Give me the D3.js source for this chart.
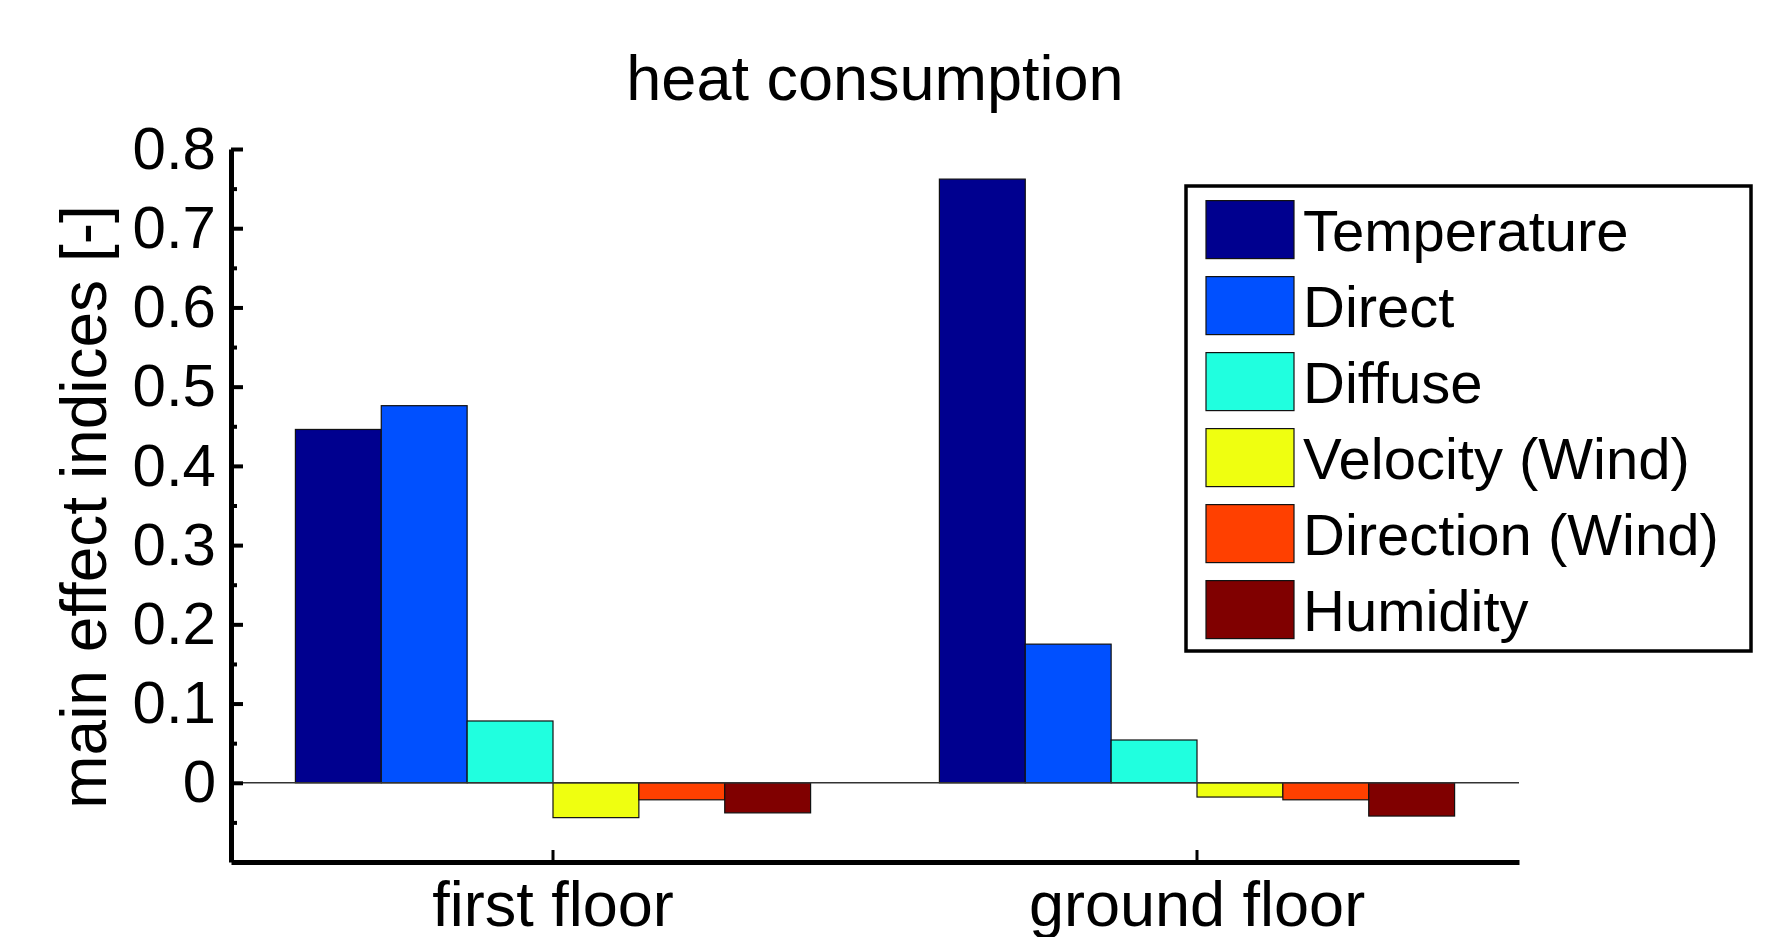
<script src="https://d3js.org/d3.v7.min.js"></script>
<style>
  body { margin: 0; background: white; }
  text { font-family: "Liberation Sans", Arial, sans-serif; fill: black; }
</style>
<div id="chart"></div>
<script>
categories = ["first floor", "ground floor"]
series = ["Temperature", "Direct", "Diffuse", "Velocity (Wind)", "Direction (Wind)", "Humidity"]
colors = ["#00008f", "#0050ff", "#20ffdf", "#efff10", "#ff4000", "#800000"]
firstFloor = [0.446, 0.476, 0.078, -0.044, -0.0215, -0.038]
groundFloor = [0.762, 0.175, 0.054, -0.018, -0.0215, -0.042]
yTicks = [0, 0.1, 0.2, 0.3, 0.4, 0.5, 0.6, 0.7, 0.8]
yMinor = [-0.05, 0.05, 0.15, 0.25, 0.35, 0.45, 0.55, 0.65, 0.75]

width = 1787
height = 937
// plot box (window.top is read-only, so no "top" name)
plotL = 231, plotR = 1519, plotT = 149, plotB = 862

rows = categories.map((c, i) => ({cat: c, vals: [firstFloor, groundFloor][i]}))

svg = d3.select('#chart')
  .append('svg')
  .attr('width', width)
  .attr('height', height)

xScale = d3.scaleBand()
  .domain(categories)
  .range([plotL, plotR])
  .paddingInner(0.2)
  .paddingOuter(0.1)

xInner = d3.scaleBand()
  .domain(series)
  .range([0, xScale.bandwidth()])

yScale = d3.scaleLinear()
  .domain([-0.1, 0.8])
  .range([plotB, plotT])

// bars
groups = svg.selectAll('g.grp')
  .data(rows)
  .enter().append('g')
  .attr('class', 'grp')
  .attr('transform', d => 'translate(' + xScale(d.cat) + ',0)')

groups.selectAll('rect')
  .data(d => d.vals.map((v, j) => ({name: series[j], v: v, c: colors[j]})))
  .enter().append('rect')
  .attr('x', d => xInner(d.name))
  .attr('width', xInner.bandwidth())
  .attr('y', d => yScale(Math.max(0, d.v)))
  .attr('height', d => Math.abs(yScale(d.v) - yScale(0)))
  .attr('fill', d => d.c)
  .attr('stroke', '#111')
  .attr('stroke-width', 1.2)

// zero line
svg.append('line')
  .attr('x1', plotL).attr('x2', plotR)
  .attr('y1', yScale(0)).attr('y2', yScale(0))
  .attr('stroke', '#333')
  .attr('stroke-width', 1.5)

// y axis
yAxis = svg.append('g')
  .attr('transform', 'translate(' + plotL + ',0)')
  .call(d3.axisLeft(yScale).tickValues(yTicks).tickFormat(d3.format('~g'))
    .tickSize(-12).tickSizeOuter(0).tickPadding(15))
yAxis.append('g')
  .call(d3.axisLeft(yScale).tickValues(yMinor).tickFormat('').tickSize(-6).tickSizeOuter(0))
  .select('.domain').remove()
yAxis.selectAll('line').attr('stroke', 'black').attr('stroke-width', 4)
yAxis.selectAll('.domain').attr('stroke', 'black').attr('stroke-width', 5)
yAxis.selectAll('text')
  .style('font-family', '"Liberation Sans", Arial, sans-serif')
  .style('font-size', '60px')

// x axis
xAxis = svg.append('g')
  .attr('transform', 'translate(0,' + plotB + ')')
  .call(d3.axisBottom(xScale).tickSize(-12).tickSizeOuter(0))
xAxis.selectAll('line').attr('stroke', 'black').attr('stroke-width', 3)
xAxis.select('.domain').attr('stroke', 'black').attr('stroke-width', 5)
xAxis.selectAll('text')
  .attr('y', 64).attr('dy', 0)
  .style('font-family', '"Liberation Sans", Arial, sans-serif')
  .style('font-size', '63px')

// title and y label
svg.append('text')
  .attr('x', (plotL + plotR) / 2)
  .attr('y', 100)
  .attr('text-anchor', 'middle')
  .style('font-size', '63px')
  .text('heat consumption')

svg.append('text')
  .attr('transform', 'translate(106,507) rotate(-90)')
  .attr('text-anchor', 'middle')
  .style('font-size', '64px')
  .text('main effect indices [-]')

// legend
legend = svg.append('g')
legend.append('rect')
  .attr('x', 1186).attr('y', 186)
  .attr('width', 565).attr('height', 465)
  .attr('fill', 'white')
  .attr('stroke', 'black')
  .attr('stroke-width', 3.5)

item = legend.selectAll('g.item')
  .data(series)
  .enter().append('g')
  .attr('class', 'item')
  .attr('transform', (d, i) => 'translate(1206,' + (200.6 + i * 76) + ')')

item.append('rect')
  .attr('width', 88).attr('height', 58)
  .attr('fill', (d, i) => colors[i])
  .attr('stroke', '#111')
  .attr('stroke-width', 1.2)

item.append('text')
  .attr('x', 97).attr('y', 50)
  .style('font-size', '58px')
  .text(d => d)
</script>
